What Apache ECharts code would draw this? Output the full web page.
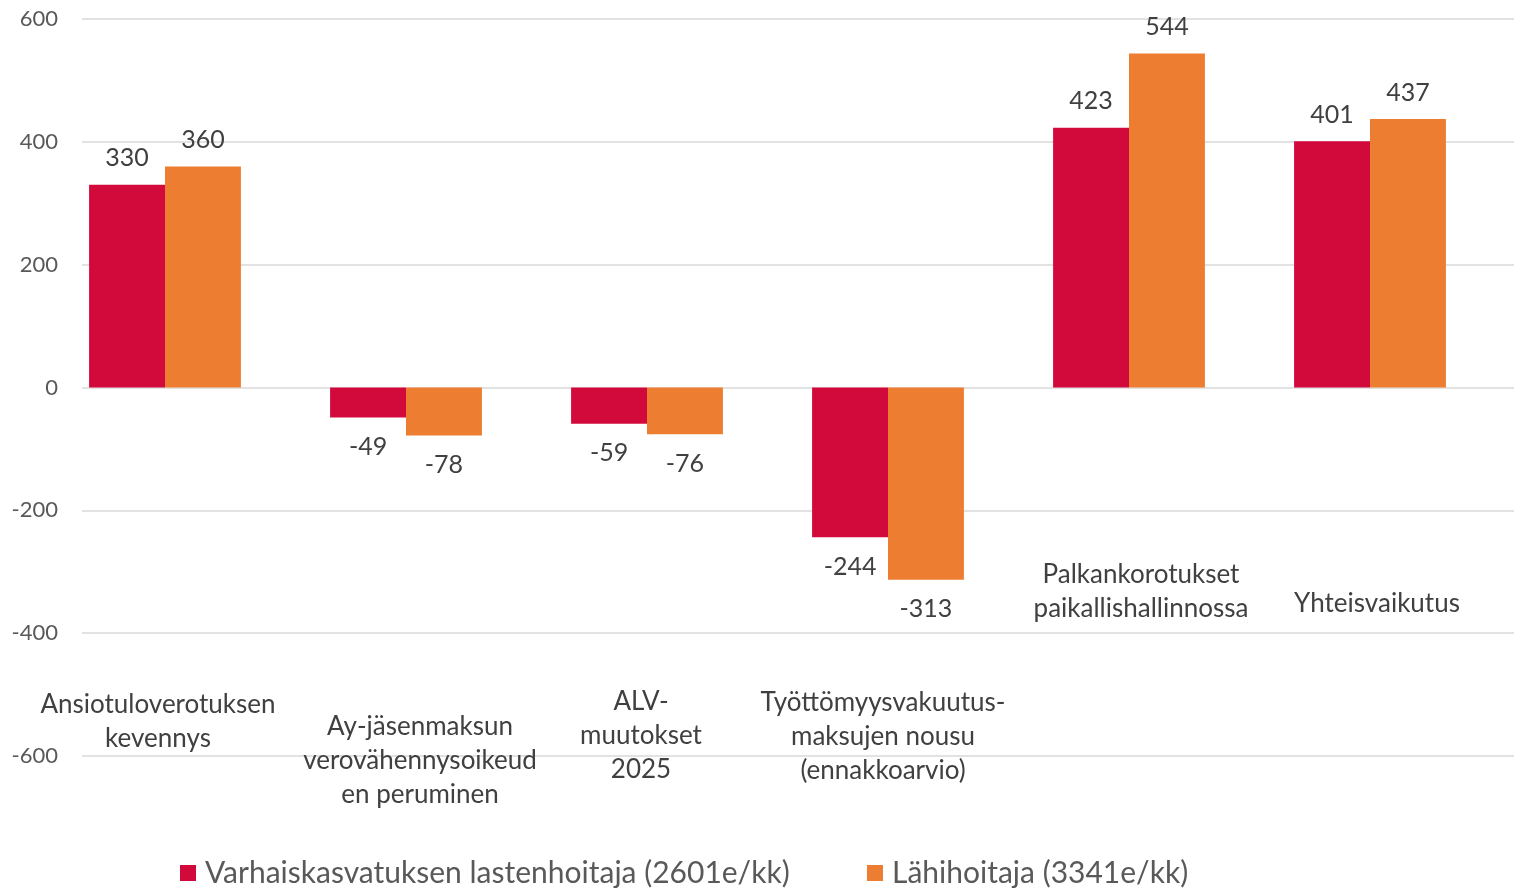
<!DOCTYPE html>
<html><head><meta charset="utf-8">
<script src="https://cdn.jsdelivr.net/npm/echarts@6/dist/echarts.min.js"></script>
<style>html,body{margin:0;padding:0;background:#fff}#c{width:1514px;height:891px}</style>
</head><body><div id="c"></div>
<script>
// ---- data ----
const categories = [
  'Ansiotuloverotuksen\nkevennys',
  'Ay-jäsenmaksun\nverovähennysoikeud\nen peruminen',
  'ALV-\nmuutokset\n2025',
  'Työttömyysvakuutus-\nmaksujen nousu\n(ennakkoarvio)',
  'Palkankorotukset\npaikallishallinnossa',
  'Yhteisvaikutus'
];
const seriesNames = ['Varhaiskasvatuksen lastenhoitaja (2601e/kk)', 'Lähihoitaja (3341e/kk)'];
const varhaiskasvatus = [330, -49, -59, -244, 423, 401];
const lahihoitaja = [360, -78, -76, -313, 544, 437];
const yMin = -600, yMax = 600, yStep = 200;

// ---- layout / style ----
const FONT = 'Lato';
const colors = ['#D20A3C', '#ED7D31'];
const labelDrop = [301, 323, 298, 299, 171, 200];  // px from zero line to label block top
const labelShift = [-7, 14, -6, -5, 12, 7];        // horizontal nudge of each category label
const gridTop = 19, gridBottom = 135;
const zeroY = 387;                                  // pixel row of the zero line

const rich = {};
categories.forEach((c, i) => {
  rich['s' + i] = { fontSize: 1, lineHeight: labelDrop[i] };
  const dx = labelShift[i];
  rich['t' + i] = {
    fontSize: 26, lineHeight: 34, color: '#404040', fontFamily: FONT,
    padding: [0, dx < 0 ? -2 * dx : 0, 0, dx > 0 ? 2 * dx : 0]
  };
});

function barData(vals) {
  return vals.map(v => ({ value: v, label: { position: v < 0 ? 'bottom' : 'top', distance: v < 0 ? 17 : 14 } }));
}

const option = {
  animation: false,
  backgroundColor: '#fff',
  grid: [
    { left: 82, right: 0, top: gridTop, bottom: gridBottom, outerBoundsMode: 'none', containLabel: false },
    { left: 44.5, right: 23.5, top: gridTop, bottom: gridBottom, outerBoundsMode: 'none', containLabel: false },
    { left: 44.5, right: 23.5, top: zeroY - 50, height: 50, outerBoundsMode: 'none', containLabel: false }
  ],
  legend: [
    { data: [seriesNames[0]], left: 180, top: 858, padding: 0, itemWidth: 16, itemHeight: 16, icon: 'rect',
      textStyle: { fontSize: 30, color: '#595959', fontFamily: FONT, padding: [0, 0, 0, 4] } },
    { data: [seriesNames[1]], left: 867, top: 858, padding: 0, itemWidth: 16, itemHeight: 16, icon: 'rect',
      textStyle: { fontSize: 30, color: '#595959', fontFamily: FONT, padding: [0, 0, 0, 4] } }
  ],
  xAxis: [
    { type: 'category', gridIndex: 0, data: categories, show: false },
    { type: 'category', gridIndex: 1, data: categories,
      axisLine: { show: false }, axisTick: { show: false }, axisLabel: { show: false } },
    { type: 'category', gridIndex: 2, data: categories, position: 'bottom',
      axisLine: { show: false }, axisTick: { show: false }, splitLine: { show: false },
      axisLabel: {
        interval: 0, margin: 0,
        formatter: (val, idx) => `{s${idx}| }\n` + String(val).split('\n').map(l => `{t${idx}|${l}}`).join('\n'),
        rich: rich
      }
    }
  ],
  yAxis: [
    { type: 'value', gridIndex: 0, min: yMin, max: yMax, interval: yStep,
      axisLine: { show: false }, axisTick: { show: false },
      axisLabel: { fontSize: 22, color: '#595959', fontFamily: FONT, margin: 24 },
      splitLine: { lineStyle: { color: '#d9d9d9', width: 1.5 } } },
    { type: 'value', gridIndex: 1, min: yMin, max: yMax, interval: yStep, show: false,
      splitLine: { show: false } },
    { type: 'value', gridIndex: 2, min: 0, max: 1, show: false, splitLine: { show: false } }
  ],
  series: [
    { name: seriesNames[0], type: 'bar', xAxisIndex: 1, yAxisIndex: 1, data: barData(varhaiskasvatus),
      itemStyle: { color: colors[0] }, barGap: '0%', barCategoryGap: '37%',
      label: { show: true, fontSize: 25, color: '#404040', fontFamily: FONT } },
    { name: seriesNames[1], type: 'bar', xAxisIndex: 1, yAxisIndex: 1, data: barData(lahihoitaja),
      itemStyle: { color: colors[1] }, barGap: '0%', barCategoryGap: '37%',
      label: { show: true, fontSize: 25, color: '#404040', fontFamily: FONT } }
  ]
};
echarts.init(document.getElementById('c'), null, { renderer: 'canvas' }).setOption(option);
</script></body></html>
